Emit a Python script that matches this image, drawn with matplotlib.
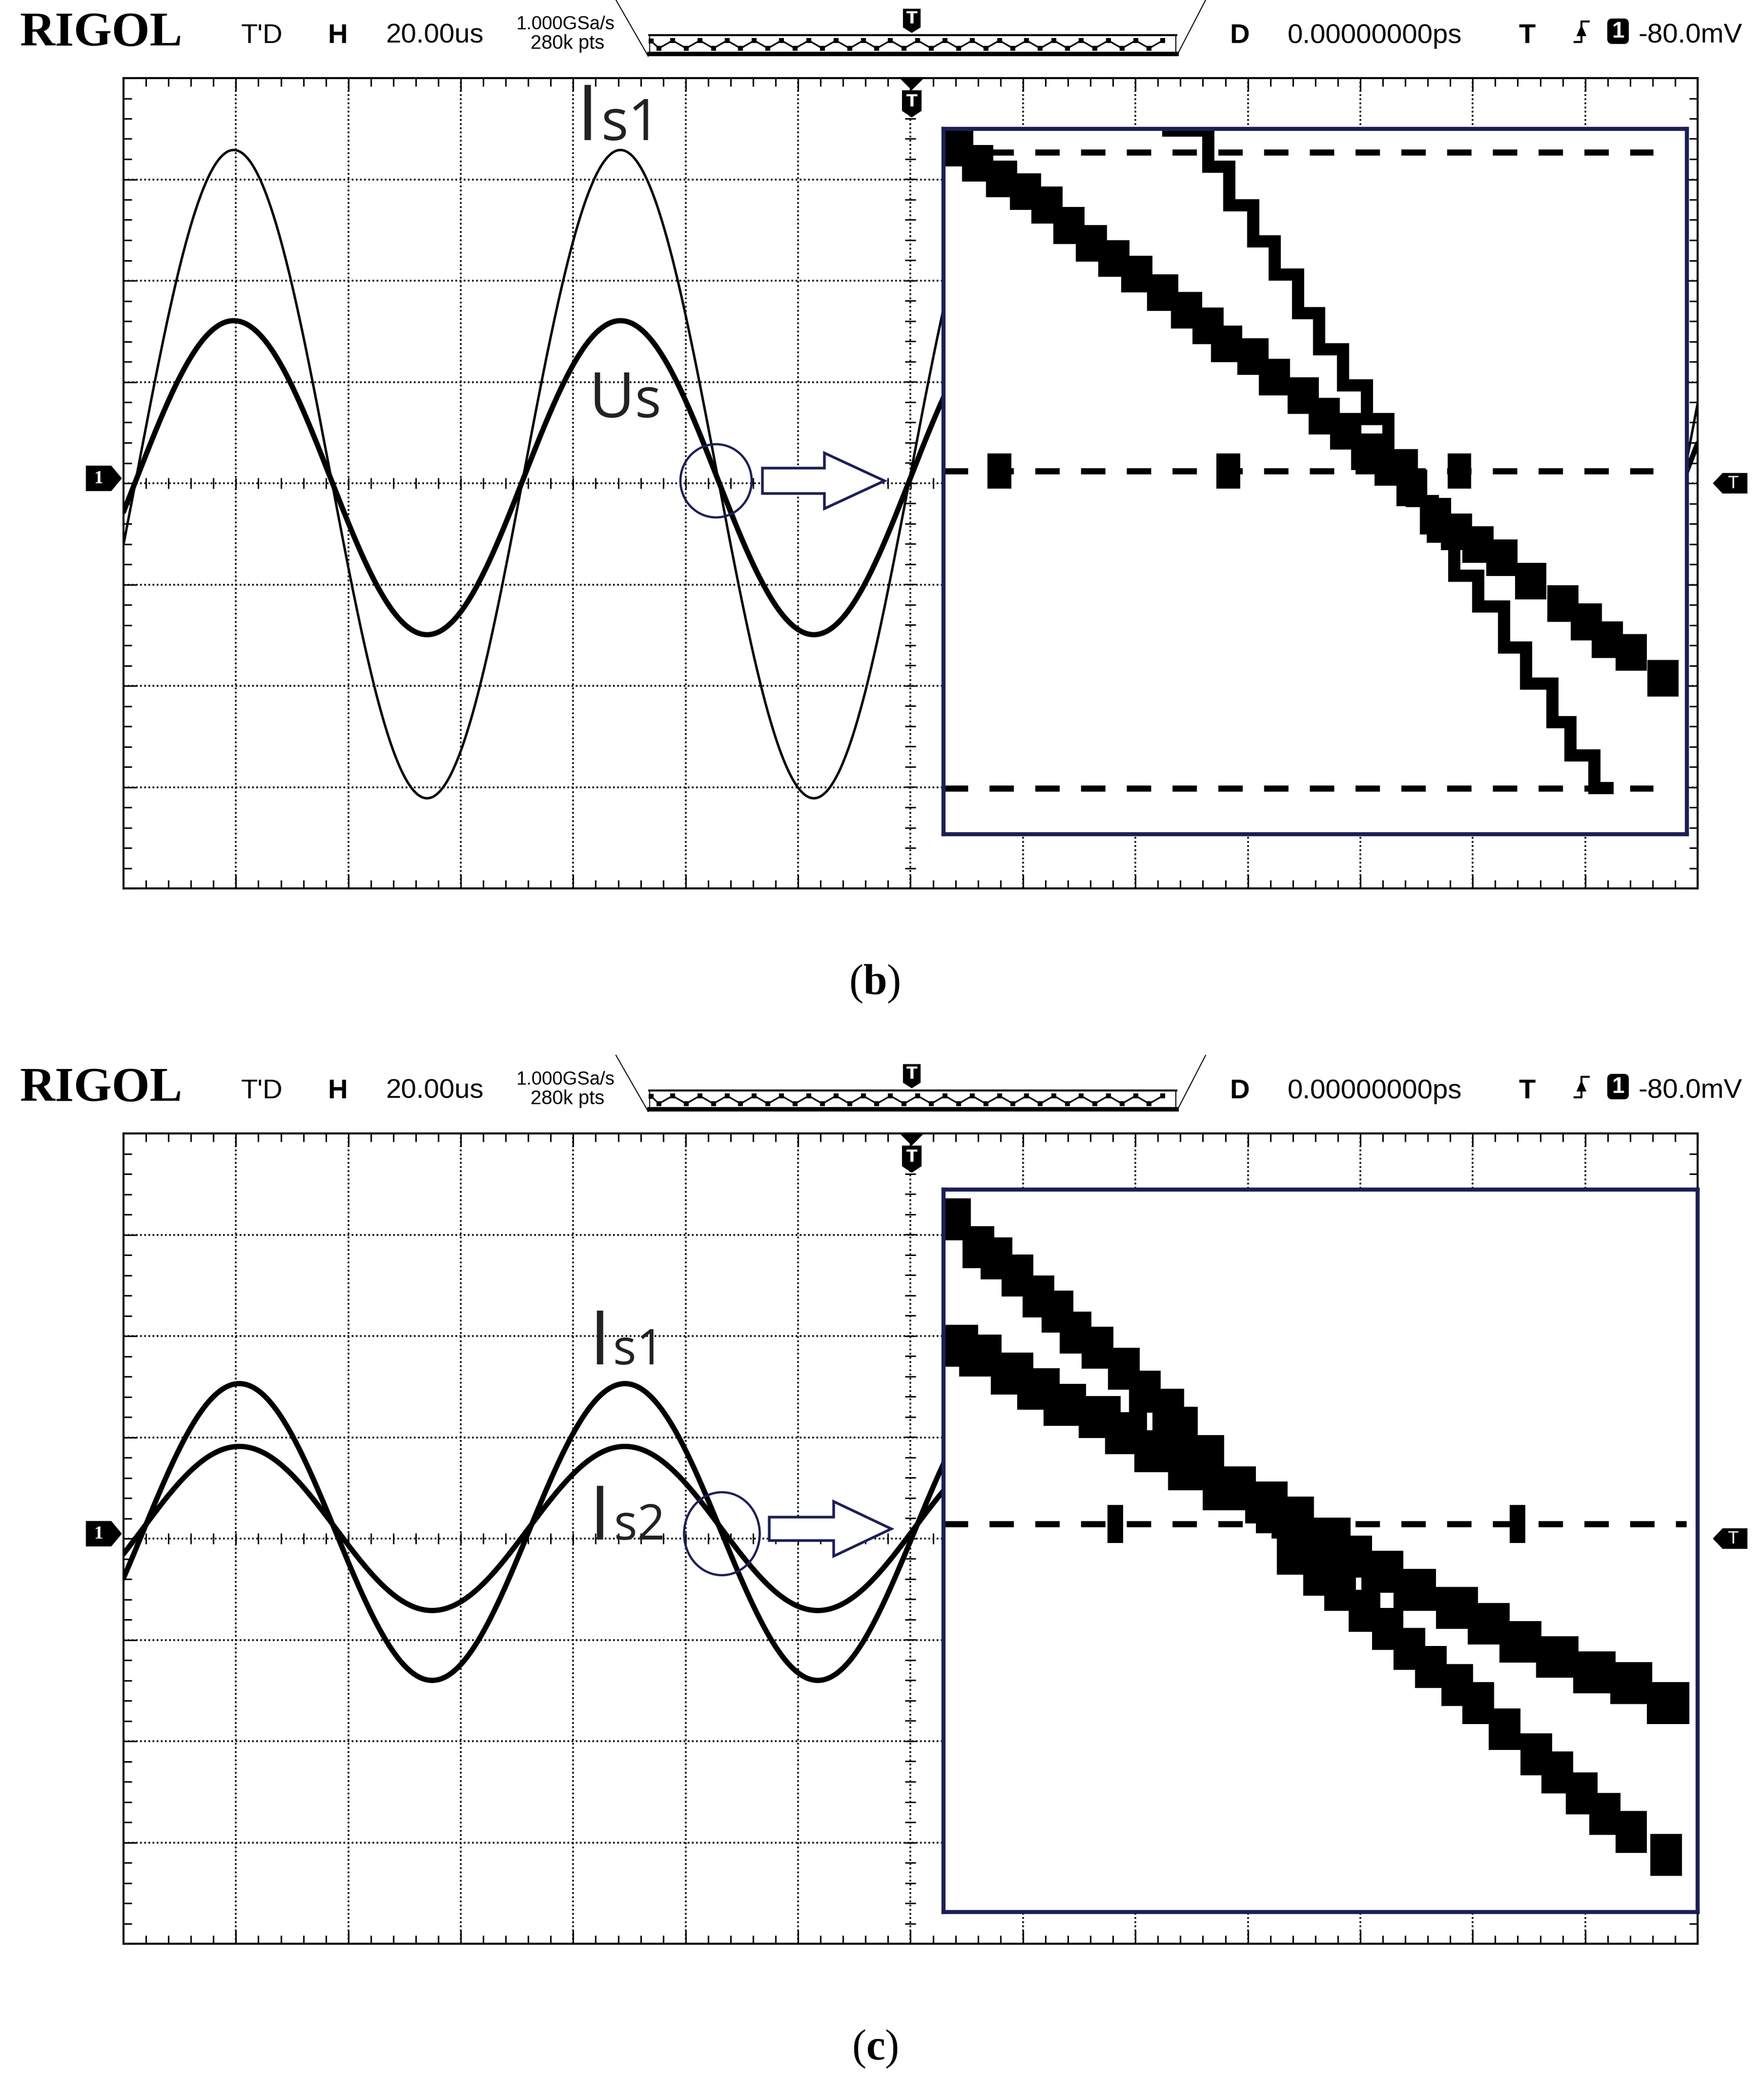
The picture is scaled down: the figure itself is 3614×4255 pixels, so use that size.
import numpy as np
import matplotlib
matplotlib.use('Agg')
import matplotlib.pyplot as plt
from matplotlib.patches import Polygon, Ellipse, FancyBboxPatch
from matplotlib.ticker import MultipleLocator

W, H = 3614, 4255
NAVY = '#1c1f55'
NARROW = ['Liberation Sans', 'DejaVu Sans']
LABEL = ['Open Sans', 'DejaVu Sans']

plt.rcParams['mathtext.fontset'] = 'custom'
plt.rcParams['mathtext.rm'] = 'Liberation Serif'
plt.rcParams['mathtext.bf'] = 'Liberation Serif:bold'

# ---- screen traces (units: divisions of the 14 x 8 graticule) ----
# amplitude, offset, position of first peak, period, line width
b_amp = [3.20, 1.55]        # Is1, Us
b_off = [0.09, 0.055]
b_peak = [0.98, 0.98]
b_period = [3.44, 3.44]
b_lw = [1.2, 2.6]

c_amp = [1.465, 0.81]       # Is1, Is2
c_off = [0.065, 0.10]
c_peak = [1.03, 1.03]
c_period = [3.43, 3.43]
c_lw = [2.6, 2.6]

# ---- zoomed insets (x: 0-100 across the box, y: 0 at centre line) ----
b_us_x = [1.9, 4.6, 7.8, 11.0, 13.9, 16.9, 19.9, 22.9, 26.0, 29.5, 32.7, 35.6, 38.1, 41.6, 44.5, 48.4,
          51.2, 54.1, 56.9, 60.1, 63.0, 66.2, 69.0, 71.9, 75.1, 79.0, 83.3, 86.5, 89.3, 92.5, 96.8]
b_us_y = [45.8, 43.6, 41.4, 39.6, 37.7, 34.8, 32.3, 30.1, 27.9, 25.3, 22.8, 20.6, 18.0, 16.2, 13.3, 10.7,
          7.8, 5.6, 2.7, 0.5, -2.4, -6.4, -8.6, -10.4, -12.3, -15.6, -18.8, -21.4, -23.9, -25.7, -29.4]
b_is1_x = [30.2, 35.6, 38.4, 41.6, 44.5, 47.7, 50.5, 53.7, 56.9, 59.8, 63.0, 65.8, 68.7, 71.9, 75.4,
           78.3, 81.9, 84.3, 87.5, 89.3]
b_is1_y = [48.3, 43.2, 37.7, 32.6, 27.9, 22.4, 17.3, 12.2, 7.4, 2.3, -4.2, -9.3, -14.8, -19.2, -25.0,
           -30.1, -35.6, -40.3, -44.9, -44.9]
b_levels = [45.2, 0.0, -45.0]
b_marks = [7.5, 38.3, 69.4]

c_is1_x = [1.5, 4.6, 7.0, 9.8, 12.6, 15.1, 17.5, 20.4, 23.9, 26.7, 29.8, 31.6, 35.1, 39.3, 43.5, 46.3,
           49.8, 52.6, 55.8, 58.9, 61.8, 64.6, 68.1, 70.9, 74.4, 78.6, 81.4, 84.6, 87.7, 91.2, 95.8]
c_is1_y = [42.2, 38.3, 36.8, 34.4, 31.5, 29.4, 26.5, 24.4, 21.5, 18.3, 15.8, 13.3, 9.4, 5.1, 1.6, -4.1,
           -7.0, -9.1, -12.0, -14.5, -17.3, -19.8, -22.3, -24.8, -28.4, -31.9, -34.4, -37.3, -40.1, -42.6, -45.8]
c_is2_x = [1.8, 4.9, 9.1, 12.6, 16.1, 20.7, 24.2, 28.1, 32.6, 37.2, 42.8, 46.3, 51.2, 54.0, 58.2, 62.5,
           68.1, 72.3, 76.5, 81.4, 86.3, 91.2, 96.1]
c_is2_y = [24.7, 23.3, 20.8, 18.7, 16.5, 14.8, 12.6, 10.1, 7.6, 4.8, 3.0, 0.9, -2.0, -4.5, -6.6, -9.1,
           -11.6, -13.8, -16.3, -18.4, -20.5, -22.0, -24.8]
c_levels = [0.0]
c_marks = [22.8, 76.1]

fig = plt.figure(figsize=(W / 300, H / 300), dpi=300)
fig.patch.set_facecolor('white')


def graticule(top, amps, offs, peaks, periods, lws):
    ax = fig.add_axes([253 / W, 1 - (top + 1660) / H, 3225 / W, 1660 / H])
    ax.set_xlim(0, 14)
    ax.set_ylim(-4, 4)
    ax.xaxis.set_major_locator(MultipleLocator(1))
    ax.xaxis.set_minor_locator(MultipleLocator(0.2))
    ax.yaxis.set_major_locator(MultipleLocator(1))
    ax.yaxis.set_minor_locator(MultipleLocator(0.2))
    ax.tick_params(which='both', direction='in', top=True, right=True, bottom=True, left=True,
                   labelbottom=False, labelleft=False, width=0.75, color='k')
    ax.tick_params(which='major', length=6.5)
    ax.tick_params(which='minor', length=4)
    ax.grid(which='major', color='k', lw=0.85, ls=(0, (1, 1.4)))
    for s in ax.spines.values():
        s.set_linewidth(1.0)
    # small ticks on the two centre lines
    t = np.arange(0.2, 14, 0.2)
    ax.plot(t, np.zeros_like(t), ls='none', marker='|', ms=5.5, mew=0.7, color='k')
    t = np.arange(-3.8, 4, 0.2)
    ax.plot(np.full_like(t, 7.0), t, ls='none', marker='_', ms=5.5, mew=0.7, color='k')

    x = np.linspace(0, 14, 3000)
    for a, o, p, T, lw in zip(amps, offs, peaks, periods, lws):
        ax.plot(x, o + a * np.cos(2 * np.pi * (x - p) / T), color='k', lw=lw, solid_capstyle='round')
    return ax


def inset(l, r, t, b, ylim):
    ia = fig.add_axes([l / W, 1 - b / H, (r - l) / W, (b - t) / H])
    ia.set_zorder(5)
    ia.set_facecolor('white')
    ia.set_xlim(0, 100)
    ia.set_ylim(*ylim)
    ia.set_xticks([])
    ia.set_yticks([])
    for s in ia.spines.values():
        s.set_color(NAVY)
        s.set_linewidth(2.0)
    return ia


# panel (b)
graticule(160, b_amp, b_off, b_peak, b_period, b_lw)
ib = inset(1933, 3456, 264, 1709, (-51.5, 48.5))
for lv in b_levels:
    ib.plot([0, 95.5], [lv, lv], color='k', lw=3, ls=(0, (4, 3.5)))
ib.bar(b_marks, 5.0, bottom=-2.5, width=3.2, color='k')
ib.bar(b_us_x, 5.2, bottom=np.array(b_us_y) - 2.6, width=4.2, color='k')
ib.plot(b_is1_x, b_is1_y, drawstyle='steps-post', color='k', lw=6, solid_joinstyle='miter')

# panel (c)
graticule(2322, c_amp, c_off, c_peak, c_period, c_lw)
ic = inset(1933, 3478, 2437, 3917, (-53.7, 46.3))
for lv in c_levels:
    ic.plot([0, 98.5], [lv, lv], color='k', lw=3, ls=(0, (4, 3.5)))
ic.bar(c_marks, 5.3, bottom=-2.65, width=2.1, color='k')
ic.bar(c_is1_x, 5.8, bottom=np.array(c_is1_y) - 2.9, width=4.2, color='k')
ic.bar(c_is2_x, 5.8, bottom=np.array(c_is2_y) - 2.9, width=5.6, color='k')

# overlay in pixel coordinates for the scope furniture
ov = fig.add_axes([0, 0, 1, 1])
ov.set_xlim(0, W)
ov.set_ylim(H, 0)
ov.axis('off')
ov.set_zorder(10)
ov.patch.set_alpha(0)


def header(dy):
    ov.text(40, 93 + dy, 'RIGOL', family='Liberation Serif', weight='bold', fontsize=24,
            ha='left', va='baseline')
    hf = dict(family=NARROW, va='baseline', ha='center', color='k')
    ov.text(537, 88 + dy, "T'D", fontsize=13.5, **hf)
    ov.text(692, 88 + dy, 'H', fontsize=13.5, weight='bold', **hf)
    ov.text(890, 88 + dy, '20.00us', fontsize=13.5, **hf)
    ov.text(1158, 60 + dy, '1.000GSa/s', fontsize=9.2, **hf)
    ov.text(1163, 100 + dy, '280k pts', fontsize=9.6, **hf)
    ov.text(2540, 88 + dy, 'D', fontsize=13.5, weight='bold', **hf)
    ov.text(2816, 88 + dy, '0.00000000ps', fontsize=13.5, **hf)
    ov.text(3129, 88 + dy, 'T', fontsize=13.5, weight='bold', **hf)
    ov.text(3463, 88 + dy, '-80.0mV', fontsize=13.5, **hf)
    # trigger edge symbol and source box
    ov.plot([3226, 3240, 3240, 3255], [86 + dy, 86 + dy, 44 + dy, 44 + dy], color='k', lw=1.0)
    ov.add_patch(Polygon([(3233, 72 + dy), (3247, 72 + dy), (3240, 56 + dy)], closed=True, fc='k', ec='k'))
    ov.add_patch(FancyBboxPatch((3295, 40 + dy), 40, 48, boxstyle='round,pad=0,rounding_size=8',
                                fc='k', ec='k'))
    ov.text(3315, 65 + dy, '1', color='white', fontsize=11, weight='bold', ha='center', va='center',
            family=NARROW)
    # memory bar
    ov.plot([1262, 1328], [0 + dy, 115 + dy], color='k', lw=0.5)
    ov.plot([2412, 2470], [112 + dy, 0 + dy], color='k', lw=0.5)
    ov.plot([1330, 2410], [72 + dy, 72 + dy], color='k', lw=1.0)
    ov.plot([1330, 2410], [110 + dy, 110 + dy], color='k', lw=2.2)
    ov.plot([1331, 1331], [72 + dy, 110 + dy], color='k', lw=0.5)
    ov.plot([2409, 2409], [72 + dy, 110 + dy], color='k', lw=0.5)
    zx = np.arange(1350, 2405, 27.9)
    zy = np.where(np.arange(len(zx)) % 2 == 0, 99, 83) + dy
    ov.plot(np.r_[1334, zx], np.r_[84 + dy, zy], color='k', lw=0.8, marker='s', ms=1.4)
    # trigger position marker
    ov.add_patch(Polygon([(1852, 20 + dy), (1884, 20 + dy), (1884, 55 + dy), (1868, 65 + dy), (1852, 55 + dy)],
                         closed=True, fc='k', ec='k'))
    ov.text(1868, 39 + dy, 'T', color='white', fontsize=8, weight='bold', ha='center', va='center')


def markers(top):
    cy = top + 830
    # channel 1 offset marker
    y1 = cy - 10
    ov.add_patch(Polygon([(178, y1 - 24), (227, y1 - 24), (247, y1), (227, y1 + 24), (178, y1 + 24)],
                         closed=True, fc='k', ec='k'))
    ov.text(202, y1 + 1, '1', color='white', fontsize=9, weight='bold', family='Liberation Serif',
            ha='center', va='center')
    # trigger level marker
    ov.add_patch(Polygon([(3578, cy - 19), (3530, cy - 19), (3512, cy), (3530, cy + 19), (3578, cy + 19)],
                         closed=True, fc='k', ec='k'))
    ov.text(3550, cy + 1, 'T', color='white', fontsize=8, ha='center', va='center')
    # trigger position marker on the graticule
    ov.add_patch(Polygon([(1846, top), (1890, top), (1868, top + 22)], closed=True, fc='k', ec='k'))
    ov.add_patch(Polygon([(1850, top + 27), (1886, top + 27), (1886, top + 66), (1868, top + 78),
                          (1850, top + 66)], closed=True, fc='k', ec='k'))
    ov.text(1868, top + 48, 'T', color='white', fontsize=8, weight='bold', ha='center', va='center')


def zoom_mark(cx, cy, ew, eh, x0, xh, xt, ay, shaft, head):
    ov.add_patch(Ellipse((cx, cy), ew, eh, fill=False, ec=NAVY, lw=1.1))
    ov.add_patch(Polygon([(x0, ay - shaft), (xh, ay - shaft), (xh, ay - head), (xt, ay),
                          (xh, ay + head), (xh, ay + shaft), (x0, ay + shaft)],
                         closed=True, fc='white', ec=NAVY, lw=1.3, joinstyle='miter'))


def label(x, y, big, small, s_big, s_small, dx):
    ov.text(x, y, big, family=LABEL, fontsize=s_big, color='#222222', ha='left', va='baseline')
    ov.text(x + dx, y, small, family=LABEL, fontsize=s_small, color='#222222', ha='left', va='baseline')


header(0)
header(2162)
markers(160)
markers(2322)

zoom_mark(1467, 985, 146, 150, 1562, 1689, 1812, 985, 26, 57)
zoom_mark(1479, 3142, 155, 170, 1576, 1708, 1826, 3132, 24, 56)

label(1182, 287, 'I', 's1', 38, 28, 49)
label(1206, 855, 'U', 's', 31, 27, 94)
label(1208, 2795, 'I', 's1', 37, 24, 48)
label(1208, 3154, 'I', 's2', 37, 24, 50)

ov.text(1792, 2016, r'($\mathbf{b}$)', family='Liberation Serif', fontsize=21, ha='center', va='center')
ov.text(1793, 4198, r'($\mathbf{c}$)', family='Liberation Serif', fontsize=21, ha='center', va='center')

fig.savefig('out.png', dpi=300, facecolor='white')
